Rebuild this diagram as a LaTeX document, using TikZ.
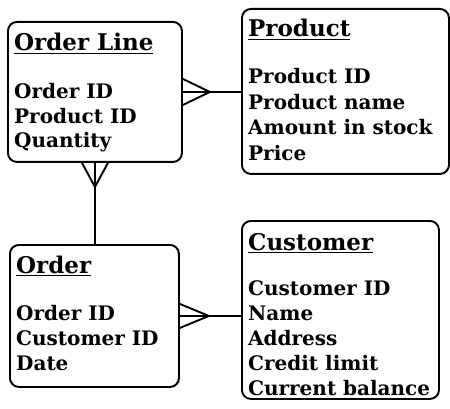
\documentclass[tikz,border=0pt]{standalone}
\usepackage{fontspec}
\setmainfont{DejaVu Serif}
\usetikzlibrary{calc}
\tikzset{
  entity/.style={draw, rounded corners=9pt, line width=1.9pt, inner sep=0pt, anchor=north west},
  title/.style={font=\fontsize{23}{27}\selectfont\bfseries, anchor=base west, inner sep=0pt},
  attr/.style={font=\fontsize{20}{24}\selectfont\bfseries, anchor=base west, inner sep=0pt},
  link/.style={line width=1.9pt}
}
\begin{document}
\begin{tikzpicture}[x=1pt,y=-1pt]
\useasboundingbox (0,0) rectangle (450,409);

% entity boxes
\node[entity, minimum width=174pt, minimum height=140pt] (ol) at (7,21) {};
\node[entity, minimum width=207pt, minimum height=165pt] (prod) at (241,8) {};
\node[entity, minimum width=169pt, minimum height=142pt] (ord) at (9,244) {};
\node[entity, minimum width=197pt, minimum height=178pt] (cust) at (241,220) {};

% titles
\node[title] (olT) at (14,51) {\underline{Order Line}};
\node[title] (prodT) at (248,37) {\underline{Product}};
\node[title] (ordT) at (16,273) {\underline{Order}};
\node[title] (custT) at (248,250) {\underline{Customer}};

% attributes
\foreach \t [count=\i] in {Order ID, Product ID, Quantity}
  \node[attr] (olA\i) at (14,{99+24.5*(\i-1)}) {\t};
\foreach \t [count=\i] in {Product ID, Product name, Amount in stock, Price}
  \node[attr] (prodA\i) at (248,{84+25.5*(\i-1)}) {\t};
\foreach \t [count=\i] in {Order ID, Customer ID, Date}
  \node[attr] (ordA\i) at (16,{320+25*(\i-1)}) {\t};
\foreach \t [count=\i] in {Customer ID, Name, Address, Credit limit, Current balance}
  \node[attr] (custA\i) at (248,{295+25*(\i-1)}) {\t};

% relationships with crow's feet on the "many" side
\coordinate (a1) at ($(ol.east)+(27,0)$);
\draw[link] (ol.east) -- (ol.east -| prod.west);
\draw[link] ($(ol.east)+(0,-13)$) -- (a1) -- ($(ol.east)+(0,13)$);

\coordinate (a2) at ($(ol.south)+(0,24)$);
\draw[link] (ol.south) -- (ol.south |- ord.north);
\draw[link] ($(ol.south)+(-13,0)$) -- (a2) -- ($(ol.south)+(13,0)$);

\coordinate (a3) at ($(ord.east)+(29,0)$);
\draw[link] (ord.east) -- (ord.east -| cust.west);
\draw[link] ($(ord.east)+(0,-12)$) -- (a3) -- ($(ord.east)+(0,12)$);
\end{tikzpicture}
\end{document}
